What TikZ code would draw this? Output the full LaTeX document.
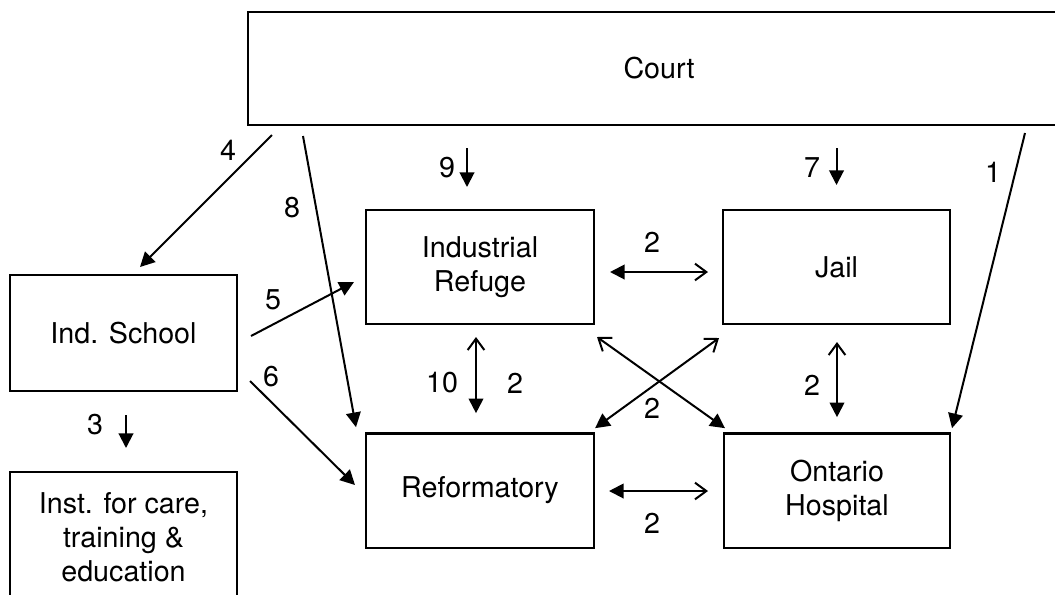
\documentclass[tikz,border=0pt]{standalone}
\usepackage{fontspec}
\setmainfont{TeX Gyre Heros}
\usetikzlibrary{arrows.meta}

\begin{document}
\begin{tikzpicture}[x=0.75pt,y=-0.75pt,
    font=\fontsize{21.5}{25.5}\selectfont,
    box/.style={draw,line width=2pt,align=center,inner sep=0pt,outer sep=0pt},
    oneway/.style={line width=1.5pt,-{Triangle[length=11pt,width=11pt]}},
    twoway/.style={line width=1.5pt,{Straight Barb[length=8.5pt,width=12.5pt]}-{Triangle[length=11pt,width=11pt]}}]
    \useasboundingbox (0,0) rectangle (1055,594);
    % boxes
    \node[box,minimum width=616.5pt,minimum height=84.75pt] (court) at (659,68.5) {Court};
    \node[box,minimum width=171pt,minimum height=85.5pt] (refuge) at (480,267) {Industrial\\Refuge};
    \node[box,minimum width=170.25pt,minimum height=85.5pt] (jail) at (836.5,267) {Jail};
    \node[box,minimum width=171pt,minimum height=86pt] (reform) at (480,490.5) {Reformatory};
    \node[box,minimum width=169.5pt,minimum height=86pt] (hosp) at (837,490.5) {Ontario\\Hospital};
    \node[box,minimum width=170.25pt,minimum height=87pt] (school) at (123.5,333) {Ind. School};
    \node[box,minimum width=170.25pt,minimum height=97.5pt] (inst) at (123.5,537) {Inst. for care,\\training \&\\education};
    % one way transfers
    \draw[oneway] ([shift={(24,10)}]court.south west) -- ([shift={(16.5,-8)}]school.north);
    \draw[oneway] ([shift={(55,11)}]court.south west) -- ([shift={(-10,-6)}]reform.north west);
    \draw[oneway] ([shift={(14,3)}]school.east) -- ([shift={(-12,15)}]refuge.west);
    \draw[oneway] ([shift={(13,-10)}]school.south east) -- ([shift={(-11,-5.5)}]reform.west);
    \draw[oneway] ([shift={(2.5,24)}]school.south) -- ([shift={(2.5,-24)}]inst.north);
    \draw[oneway] ([shift={(-13,-62)}]refuge.north) -- ([shift={(-13,-23)}]refuge.north);
    \draw[oneway] ([shift={(0,-62)}]jail.north) -- ([shift={(0,-25)}]jail.north);
    \draw[oneway] ([shift={(777,8)}]court.south west) -- ([shift={(2,-5)}]hosp.north east);
    % two way transfers
    \draw[twoway] ([shift={(-15,5)}]jail.west) -- ([shift={(16,5)}]refuge.east);
    \draw[twoway] ([shift={(-16,0.5)}]hosp.west) -- ([shift={(15,0.5)}]reform.east);
    \draw[twoway] ([shift={(-4,13)}]refuge.south) -- ([shift={(-4,-20)}]reform.north);
    \draw[twoway] ([shift={(0.5,18)}]jail.south) -- ([shift={(0,-16)}]hosp.north);
    \draw[twoway] ([shift={(3,13)}]refuge.south east) -- ([shift={(1,-5)}]hosp.north west);
    \draw[twoway] ([shift={(-4,14)}]jail.south west) -- ([shift={(1,-5)}]reform.north east);
    % numbers
    \node (n1) at (993,172) {1};
    \node (n3) at (95,425) {3};
    \node (n4) at (228,150) {4};
    \node (n5) at (273,300) {5};
    \node (n6) at (271,377) {6};
    \node (n7) at (812,168) {7};
    \node (n8) at (292,208) {8};
    \node (n9) at (447,168) {9};
    \node (n10) at (442,383) {10};
    \node (rj) at (652,242) {2};
    \node (rr) at (515,383) {2};
    \node (jh) at (812,385) {2};
    \node (x2) at (652,408) {2};
    \node (rh) at (652,523) {2};
\end{tikzpicture}
\end{document}
